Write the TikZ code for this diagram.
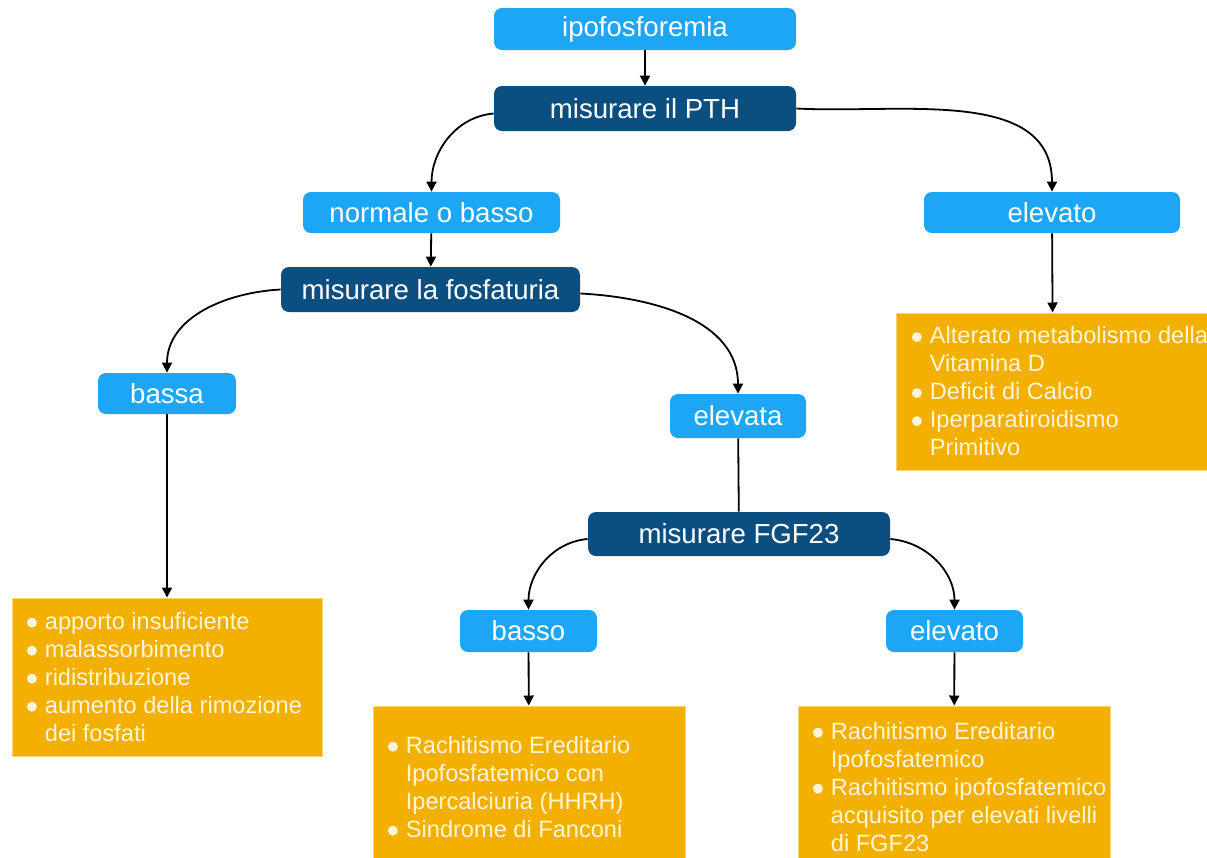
\documentclass[tikz,border=0pt]{standalone}
\usepackage{fontspec}
\setmainfont{Liberation Sans}
\usetikzlibrary{arrows.meta}
\definecolor{lblue}{HTML}{1CA6F5}
\definecolor{dblue}{HTML}{0B4E80}
\definecolor{orng}{HTML}{F4B000}
\definecolor{cream}{HTML}{FFF5D8}
\newcommand{\bul}{\makebox[9pt][l]{\tikz[baseline={(0pt,-3.4pt)}]\fill[cream] (2.4pt,0pt) circle[radius=2.5pt];}}
\newcommand{\cont}{\hspace*{9pt}}
\begin{document}
\begin{tikzpicture}[x=0.5pt,y=-0.5pt,
  box/.style={rounded corners=4pt, inner sep=0pt, text=white,
    font=\fontsize{13.8}{16}\selectfont, align=center},
  lbox/.style={box, fill=lblue},
  dbox/.style={box, fill=dblue},
  obox/.style={fill=orng, draw=orng!55!white, line width=0.5pt, inner sep=0pt},
  otext/.style={text=cream, font=\fontsize{11.8}{14}\selectfont, align=left,
    inner sep=0pt, anchor=west},
  arr/.style={-{Triangle[length=5pt,width=5pt]}, line width=0.9pt, black},
  ln/.style={line width=0.9pt, black}]

\useasboundingbox (0,0) rectangle (1207,858);
\clip (0,0) rectangle (1207,858);
\fill[white] (0,0) rectangle (1207,858);

% blue nodes
\node[lbox, minimum width=151pt, minimum height=21pt] (ipo) at (645,29) {ipofosforemia};
\node[dbox, minimum width=151pt, minimum height=22.5pt] (pth) at (645,108.5) {misurare il PTH};
\node[lbox, minimum width=128.5pt, minimum height=20.5pt] (norm) at (431.5,212.5) {normale o basso};
\node[lbox, minimum width=128pt, minimum height=20.5pt] (elev1) at (1052,212.5) {elevato};
\node[dbox, minimum width=149.5pt, minimum height=22.5pt] (fosf) at (430.5,289.5) {misurare la fosfaturia};
\node[lbox, minimum width=69pt, minimum height=20.5pt] (bassa) at (167,393.5) {bassa};
\node[lbox, minimum width=68pt, minimum height=22pt] (elevata) at (738,416) {elevata};
\node[dbox, minimum width=151pt, minimum height=22pt] (fgf) at (739,534) {misurare FGF23};
\node[lbox, minimum width=68.5pt, minimum height=21pt] (basso) at (528.5,631) {basso};
\node[lbox, minimum width=68.5pt, minimum height=21pt] (elev2) at (954.5,631) {elevato};

% orange boxes
\node[obox, minimum width=157pt, minimum height=78.5pt] (o1) at (1053,391.5) {};
\node[otext] (t1) at ([xshift=8pt]o1.west) {\bul Alterato metabolismo della\\ \cont Vitamina D\\ \bul Deficit di Calcio\\ \bul Iperparatiroidismo\\ \cont Primitivo};

\node[obox, minimum width=155pt, minimum height=79pt] (o2) at (167,677) {};
\node[otext] (t2) at ([xshift=7.5pt]o2.west) {\bul apporto insuficiente\\ \bul malassorbimento\\ \bul ridistribuzione\\ \bul aumento della rimozione\\ \cont dei fosfati};

\node[obox, minimum width=156pt, minimum height=81pt] (o3) at (529,787) {};
\node[otext] (t3) at ([xshift=7.5pt]o3.west) {\bul Rachitismo Ereditario\\ \cont Ipofosfatemico con\\ \cont Ipercalciuria (HHRH)\\ \bul Sindrome di Fanconi};

\node[obox, minimum width=156pt, minimum height=81pt] (o4) at (954,787) {};
\node[otext] (t4) at ([xshift=7.5pt]o4.west) {\bul Rachitismo Ereditario\\ \cont Ipofosfatemico\\ \bul Rachitismo ipofosfatemico\\ \cont acquisito per elevati livelli\\ \cont di FGF23};

% connectors
\draw[arr] (ipo) -- (pth);
\draw[arr] ([yshift=-2.5pt]pth.west) to[out=185,in=90] (norm.north);
\draw[arr] (pth.east) to[out=-3,in=90] (elev1.north);
\draw[arr] (norm) -- (fosf);
\draw[arr] (elev1) -- (o1);
\draw[arr] (fosf.west) to[out=183,in=90] (bassa.north);
\draw[arr] ([yshift=-2pt]fosf.east) to[out=-3,in=90] (elevata.north);
\draw[arr] (bassa) -- (o2);
\draw[ln] (elevata) -- (fgf);
\draw[arr] ([yshift=-2.5pt]fgf.west) to[out=185,in=90] (basso.north);
\draw[arr] ([yshift=-2.5pt]fgf.east) to[out=-5,in=90] (elev2.north);
\draw[arr] (basso) -- (o3);
\draw[arr] (elev2) -- (o4);
\end{tikzpicture}
\end{document}
